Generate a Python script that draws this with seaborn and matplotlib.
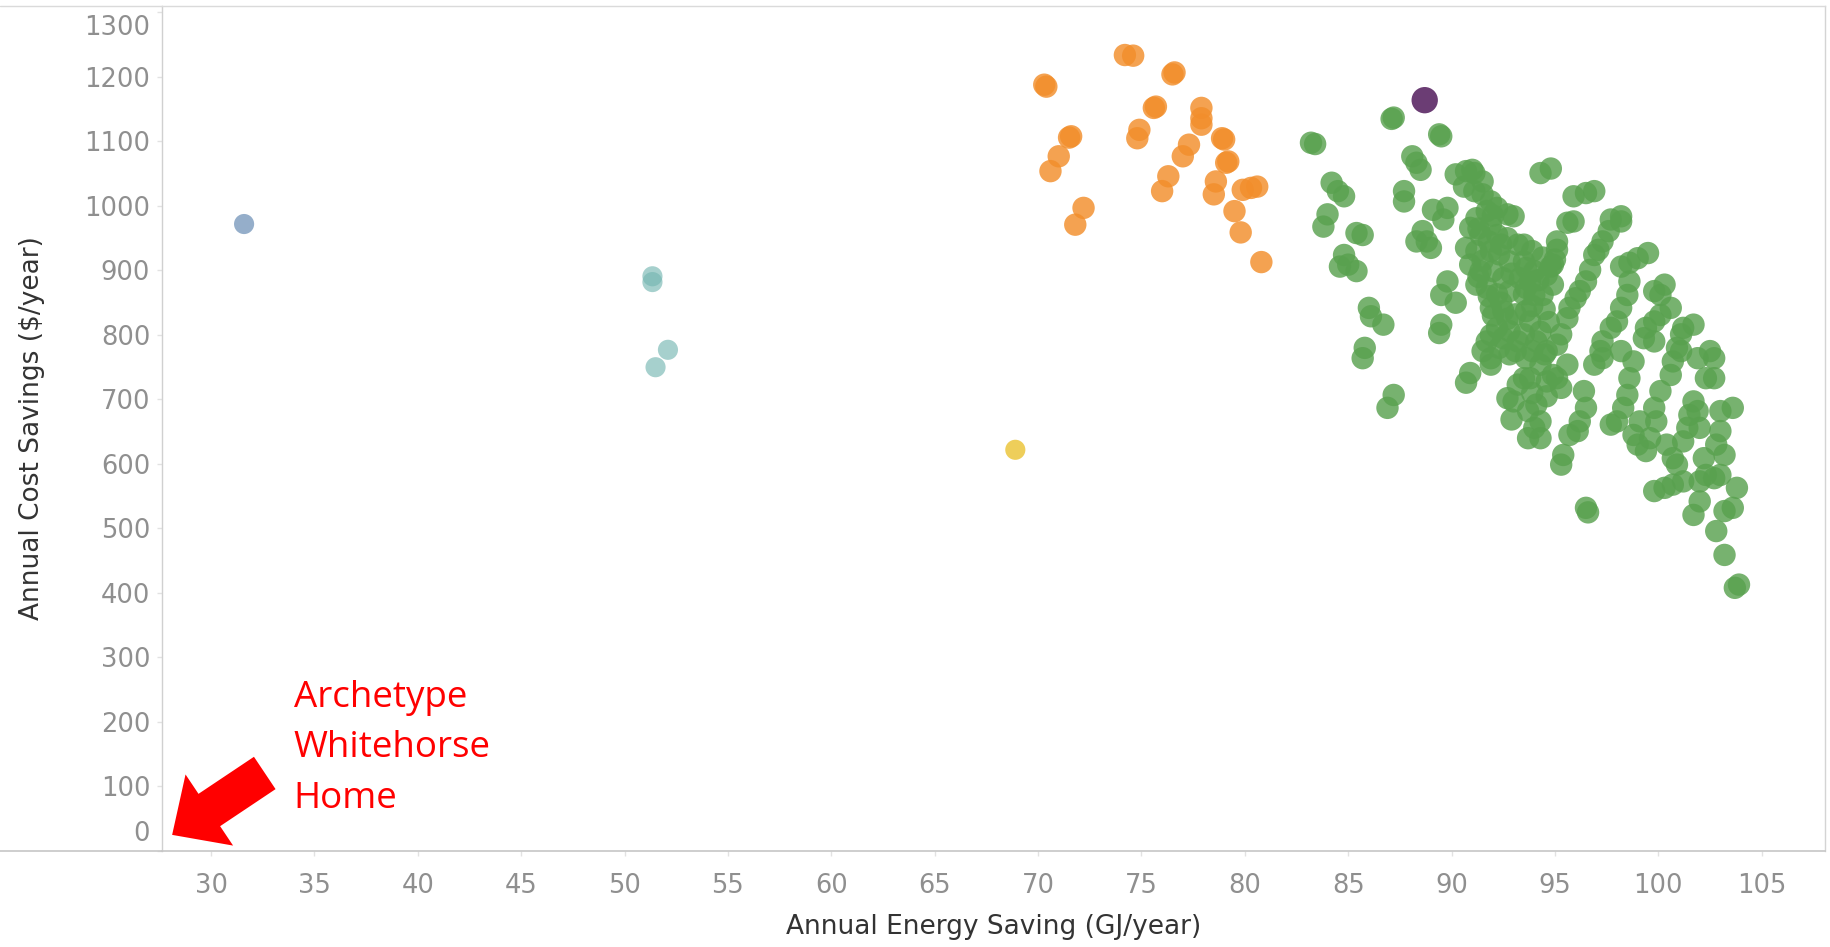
import matplotlib
matplotlib.use("Agg")
import matplotlib.pyplot as plt
import pandas as pd
import seaborn as sns
from matplotlib.lines import Line2D
from matplotlib.transforms import ScaledTranslation, offset_copy

# ---------------- data: annual energy saving (GJ/yr) vs cost saving ($/yr) ----------------
# main upgrade family (green)
green_energy = [
    83.4, 83.2, 87.2, 87.1, 89.4, 89.5, 88.1, 88.3, 88.5, 84.2,
    84.5, 84.8, 87.7, 87.7, 84.0, 83.8, 85.4, 85.7, 89.1, 89.8,
    89.6, 90.2, 90.7, 91.0, 90.6, 88.6, 88.8, 89.0, 88.3, 84.8,
    85.0, 85.4, 84.6, 89.8, 89.5, 90.2, 86.0, 86.1, 86.7, 89.5,
    89.4, 85.8,
    91.1, 91.5, 91.1, 91.5, 91.9, 91.7, 92.2, 92.7, 93.0, 91.2,
    91.9, 90.9, 91.4, 92.2, 92.7, 93.2, 90.7, 91.2, 91.9, 92.3,
    92.8, 93.5, 90.9, 91.4, 92.0, 92.5, 93.3, 91.2, 91.7, 92.2,
    92.8, 93.5, 91.9, 92.5, 93.1, 92.2, 92.8, 93.5, 91.7, 92.3,
    93.1, 93.6, 93.8,
    91.3, 92.0, 91.8, 92.4, 91.5, 91.3, 92.9, 91.8, 92.4, 92.0,
    92.7, 91.9, 92.5, 93.2,
    85.7, 87.2, 86.9, 90.9, 90.7, 91.9, 91.9, 93.2, 93.0, 92.9,
    93.5, 93.7, 93.7, 91.5, 92.8, 92.7,
    94.3, 94.8, 95.9, 96.5, 96.9, 95.6, 95.9, 97.7, 98.2, 98.2,
    97.6, 97.3, 97.1, 96.9, 95.1, 95.1, 95.0, 94.9, 99.5, 99.0,
    98.6, 98.2, 96.7, 96.5, 96.2, 96.0, 95.7, 95.6, 95.3, 95.1,
    93.6, 94.0, 93.6, 94.0, 93.8, 94.1, 94.8, 94.6, 94.9, 94.4,
    98.6, 98.5, 98.2, 98.0, 97.7, 97.3, 97.2, 100.3, 99.8, 100.1,
    100.6, 100.1, 99.8, 99.4, 99.3, 99.8, 101.7, 101.2, 101.1, 100.9,
    102.5, 93.5,
    93.9, 94.4, 94.2, 93.9, 94.5, 94.3, 94.7, 94.6,
    93.6, 94.3, 94.6, 94.9, 93.8, 94.1, 94.3, 94.3, 94.0, 95.3,
    95.1, 95.6, 96.4, 96.5, 96.2, 96.1, 95.7, 95.4, 95.3, 96.5,
    96.6, 96.9, 97.3, 98.2, 98.8, 98.6, 98.5, 98.3, 98.0, 97.7,
    98.8, 99.0, 99.4, 99.6, 99.1, 99.8, 100.1, 100.6, 100.7, 101.1,
    99.9, 100.4, 100.7, 100.9, 99.8, 100.3, 100.7, 101.2, 101.7, 101.5,
    101.4, 101.2, 101.9, 102.0, 101.9, 102.7, 102.3, 102.7, 103.0, 103.6,
    103.0, 102.8, 103.2, 102.2, 102.3, 102.0, 102.7, 103.0, 103.8, 103.6,
    103.2, 102.0, 101.7, 102.8, 103.2, 103.9, 103.7,
    93.9, 94.5, 93.9, 94.6,
]
green_cost = [
    1096, 1098, 1137, 1135, 1111, 1108, 1077, 1067, 1056, 1036,
    1023, 1015, 1023, 1007, 987, 968, 958, 955, 994, 997,
    979, 1049, 1054, 1056, 1030, 961, 945, 935, 945, 924,
    909, 899, 906, 883, 862, 850, 842, 829, 816, 816,
    803, 780,
    1051, 1038, 1023, 1018, 1007, 992, 997, 987, 984, 981,
    971, 966, 955, 955, 950, 940, 935, 930, 930, 925,
    914, 914, 909, 899, 899, 888, 888, 878, 873, 863,
    868, 863, 842, 837, 832, 811, 806, 801, 790, 780,
    775, 837, 883,
    965, 985, 945, 940, 915, 890, 895, 860, 850, 830,
    825, 800, 795, 790,
    764, 707, 687, 741, 726, 764, 754, 723, 697, 669,
    733, 682, 640, 775, 770, 702,
    1051, 1058, 1015, 1020, 1023, 974, 976, 979, 984, 976,
    961, 945, 932, 924, 945, 932, 917, 909, 927, 919,
    912, 906, 901, 883, 868, 857, 842, 826, 801, 785,
    904, 899, 873, 862, 821, 790, 906, 893, 878, 862,
    883, 862, 842, 821, 811, 790, 775, 878, 868, 862,
    842, 831, 821, 811, 795, 790, 816, 811, 801, 780,
    775, 940,
    930, 920, 885, 845, 840, 805, 820, 775,
    764, 754, 728, 738, 733, 692, 666, 640, 656, 718,
    733, 754, 713, 687, 666, 651, 645, 614, 599, 532,
    525, 754, 764, 775, 759, 733, 707, 687, 666, 661,
    645, 630, 620, 640, 666, 687, 713, 738, 759, 775,
    666, 630, 609, 599, 558, 563, 568, 573, 697, 676,
    656, 635, 682, 656, 764, 764, 733, 733, 682, 687,
    651, 630, 614, 609, 583, 573, 578, 583, 563, 532,
    527, 542, 521, 496, 459, 413, 408,
    775, 770, 710, 705,
]

# second upgrade family (orange)
orange_energy = [
    70.4, 70.3, 74.2, 74.6, 76.6, 76.5, 75.7, 75.6, 71.6, 71.5,
    74.9, 74.8, 77.9, 77.9, 77.9, 71.0, 70.6, 77.3, 77.0, 78.9,
    79.0, 79.2, 79.1, 76.3, 76.0, 78.6, 78.5, 79.9, 80.3, 80.6,
    79.5, 79.8, 80.8, 72.2, 71.8,
]
orange_cost = [
    1185, 1188, 1234, 1233, 1207, 1204, 1154, 1152, 1108, 1106,
    1118, 1105, 1152, 1136, 1126, 1077, 1054, 1095, 1077, 1105,
    1103, 1069, 1067, 1046, 1023, 1038, 1018, 1025, 1028, 1030,
    992, 959, 913, 997, 971,
]

teal_energy = [51.35, 51.35, 52.1, 51.5]
teal_cost = [891, 882, 777, 750]

blue_energy = [31.6]
blue_cost = [972]

yellow_energy = [68.9]
yellow_cost = [622]

purple_energy = [88.7]
purple_cost = [1164]

x_ticks = list(range(30, 106, 5))
y_ticks = list(range(0, 1301, 100))

x_title = "Annual Energy Saving (GJ/year)"
y_title = "Annual Cost Savings ($/year)"
note_lines = ["Archetype", "Whitehorse", "Home"]

# ---------------- assemble a tidy table ----------------
series = {
    "blue": (blue_energy, blue_cost),
    "teal": (teal_energy, teal_cost),
    "yellow": (yellow_energy, yellow_cost),
    "orange": (orange_energy, orange_cost),
    "green": (green_energy, green_cost),
    "purple": (purple_energy, purple_cost),
}
frames = []
for name, (xs, ys) in series.items():
    assert len(xs) == len(ys), name
    frames.append(pd.DataFrame({"energy": xs, "cost": ys, "group": name}))
df = pd.concat(frames, ignore_index=True)

styles = {
    "blue":   dict(color="#4E79A7", alpha=0.6,  s=210),
    "teal":   dict(color="#76B7B2", alpha=0.65, s=210),
    "yellow": dict(color="#EDC948", alpha=0.9,  s=210),
    "orange": dict(color="#F28E2B", alpha=0.82, s=260),
    "green":  dict(color="#59A14F", alpha=0.82, s=260),
    "purple": dict(color="#6B3D74", alpha=1.0,  s=360),
}

# ---------------- figure ----------------
sns.set_theme(style="white")
plt.rcParams["font.family"] = ["DejaVu Sans"]

W, H = 1831, 947
fig = plt.figure(figsize=(W / 100, H / 100), dpi=100)
left, right, top, bottom = 162, 1825, 6, 851
ax = fig.add_axes([left / W, 1 - bottom / H, (right - left) / W, (bottom - top) / H])

for name in series:
    sub = df[df["group"] == name]
    st = styles[name]
    sns.scatterplot(data=sub, x="energy", y="cost", ax=ax, color=st["color"],
                    alpha=st["alpha"], s=st["s"], edgecolor="none", linewidth=0,
                    legend=False, zorder=3 if name != "purple" else 4)

ax.set_xlim(27.63, 108.06)
ax.set_ylim(0, 1310)
ax.set_xticks(x_ticks)
ax.set_yticks(y_ticks)
ax.set_xticklabels([str(v) for v in x_ticks])
ax.set_yticklabels([str(v) for v in y_ticks])

tick_color = "#8f8f8f"
ax.tick_params(axis="x", length=3.5, width=1, color="#e2e2e2", pad=12,
               labelsize=18.5, labelcolor=tick_color, bottom=True)
ax.tick_params(axis="y", length=3.5, width=1, color="#e2e2e2", pad=5,
               labelsize=18.5, labelcolor=tick_color, left=True)

# keep the end labels of the value axis inside the frame
yt = ax.yaxis.get_major_ticks()
yt[0].label1.set_verticalalignment("bottom")
yt[0].label1.set_transform(yt[0].label1.get_transform()
                           + ScaledTranslation(0, 3 / 72, fig.dpi_scale_trans))
yt[-1].label1.set_verticalalignment("top")
yt[-1].label1.set_transform(yt[-1].label1.get_transform()
                            + ScaledTranslation(0, -2 / 72, fig.dpi_scale_trans))

ax.set_xlabel(x_title, fontsize=19, color="#333333")
ax.set_ylabel(y_title, fontsize=19, color="#333333")
ax.xaxis.set_label_coords(0.5, -0.075)
ax.yaxis.set_label_coords(-0.0705, 0.5)

for side, col, lw in [("left", "#d0d0d0", 1.0), ("bottom", "#c6c6c6", 1.2),
                      ("top", "#dadada", 1.0), ("right", "#d4d4d4", 1.0)]:
    ax.spines[side].set_visible(True)
    ax.spines[side].set_color(col)
    ax.spines[side].set_linewidth(lw)
ax.grid(False)

# frame lines run across the full width of the view
fig.add_artist(Line2D([0, left / W], [1 - top / H, 1 - top / H],
                      transform=fig.transFigure, color="#dadada", lw=1.0))
fig.add_artist(Line2D([0, left / W], [1 - bottom / H, 1 - bottom / H],
                      transform=fig.transFigure, color="#c6c6c6", lw=1.2))

# annotation for the reference home near the origin
red = "#FF0000"
arrow_tip = (28.12, 25)
arrow_tail = (32.6, 121)
ax.annotate("", xy=arrow_tip, xytext=arrow_tail, xycoords="data", textcoords="data",
            annotation_clip=False,
            arrowprops=dict(arrowstyle="simple,head_length=2.3,head_width=4.4,tail_width=2.0",
                            mutation_scale=14, color=red, lw=0, shrinkA=0, shrinkB=0))

note_x, note_y = 34.0, 224
for i, line in enumerate(note_lines):
    tr = offset_copy(ax.transData, fig=fig, x=0, y=-36.5 * i, units="points")
    ax.text(note_x, note_y, line, transform=tr, color=red, fontsize=26.5,
            family=["Open Sans", "DejaVu Sans"], ha="left", va="baseline")

fig.savefig("out.png", dpi=100, facecolor="white")
